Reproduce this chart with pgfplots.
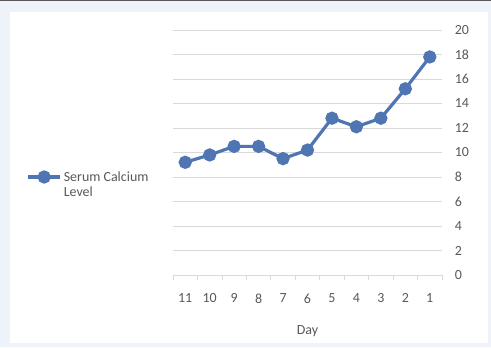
\documentclass[border=0pt]{standalone}
\usepackage{pgfplots}
\pgfplotsset{compat=1.18}
\usepackage{fontspec}
\setmainfont{Carlito}
\definecolor{bgout}{RGB}{238,242,249}
\definecolor{ser}{RGB}{79,118,178}
\definecolor{grd}{RGB}{217,217,217}
\definecolor{txt}{RGB}{89,89,89}
\begin{document}
\fontsize{14}{16}\selectfont
\begin{tikzpicture}[x=1bp,y=1bp]
\useasboundingbox (0,0) rectangle (491,347);
\fill[bgout] (0,0) rectangle (491,347);
\fill[black!65] (0,346) rectangle (491,347);
\fill[white] (10,4) rectangle (488,335);
\begin{axis}[
  at={(173bp,72bp)}, anchor=south west,
  scale only axis, width=269bp, height=245bp,
  xmin=-0.5, xmax=10.5, ymin=0, ymax=20,
  axis x line*=bottom, axis y line*=right,
  y axis line style={draw=none},
  x axis line style={draw=grd, line width=0.8pt},
  xtick={0,...,10},
  xticklabels={11,10,9,8,7,6,5,4,3,2,1},
  minor xtick={-0.5,0.5,...,10.5},
  major tick length=0pt,
  minor tick length=5bp,
  tick align=outside,
  minor tick style={draw=grd, line width=0.8pt},
  ytick={0,2,...,20},
  ymajorgrids, grid style={draw=grd, line width=0.8pt},
  tick label style={text=txt, font=\fontsize{14}{16}\selectfont},
  /pgf/number format/assume math mode=true,
  xticklabel style={yshift=-14bp},
  yticklabel style={xshift=8bp},
  xlabel={Day}, xlabel style={text=txt, font=\fontsize{14}{16}\selectfont, yshift=-13bp},
  legend style={at={(-0.545,0.4)}, anchor=west, draw=none, fill=none,
    font=\fontsize{14}{16}\selectfont, text=txt, inner sep=0pt,
    /tikz/every even column/.append style={column sep=0bp}},
  legend cell align=left,
  legend image code/.code={\draw[#1, mark repeat=2, mark phase=2] plot coordinates {(0bp,0bp)(16bp,0bp)(32bp,0bp)};},
]
\addplot[color=ser, line width=3.2bp, mark=*, mark size=5bp, mark options={draw=none, fill=ser}] coordinates {
(0,9.2)(1,9.8)(2,10.5)(3,10.5)(4,9.5)(5,10.2)(6,12.8)(7,12.1)(8,12.8)(9,15.2)(10,17.8)};
\addlegendentry{\begin{tabular}[t]{@{}l@{}}Serum Calcium\\[-1bp]Level\end{tabular}}
\end{axis}
\end{tikzpicture}
\end{document}
